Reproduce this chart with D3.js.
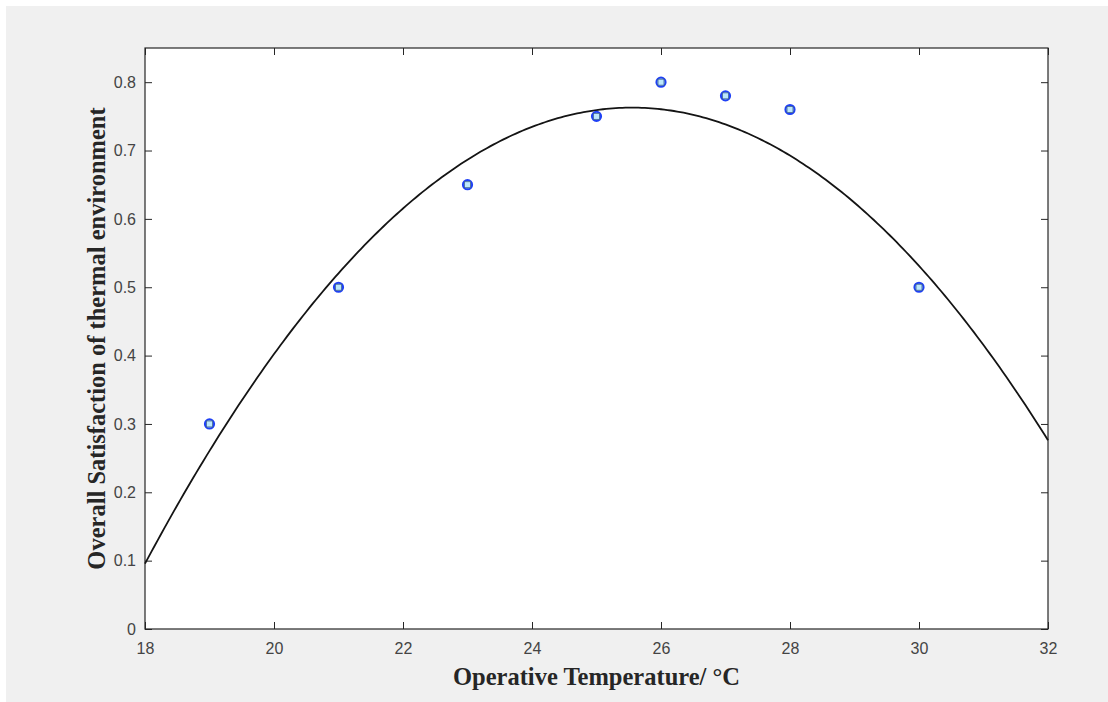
<!DOCTYPE html>
<html>
<head>
<meta charset="utf-8">
<script src="https://cdn.jsdelivr.net/npm/d3@7"></script>
<style>
  body { margin: 0; background: #ffffff; }
  svg { display: block; }
</style>
</head>
<body>
<div id="chart"></div>
<script>
/* DATA */
const temps = [19, 21, 23, 25, 26, 27, 28, 30];
const satisfaction = [0.30, 0.50, 0.65, 0.75, 0.80, 0.78, 0.76, 0.50];
// fitted quadratic: y = p2*x^2 + p1*x + p0
const fitCoeffs = [-0.0117, 0.5979, -6.8758];
const xTicks = [18, 20, 22, 24, 26, 28, 30, 32];
const yTicks = [0, 0.1, 0.2, 0.3, 0.4, 0.5, 0.6, 0.7, 0.8];
const xLabel = "Operative Temperature/ °C";
const yLabel = "Overall Satisfaction of thermal environment";

/* LAYOUT */
const W = 1108, H = 702;
const margin = {top: 48, right: 60, bottom: 73, left: 145};
const width = W - margin.left - margin.right,
  height = H - margin.top - margin.bottom;
const axisColor = "#262626";
const tickTextColor = "#444444";
const tickLen = 7;

const svg = d3.select("#chart").append("svg")
  .attr("width", W)
  .attr("height", H);

// figure background
svg.append("rect")
  .attr("x", 6).attr("y", 6)
  .attr("width", W - 6).attr("height", H - 6)
  .attr("fill", "#f0f0f0");

const g = svg.append("g")
  .attr("transform", `translate(${margin.left},${margin.top})`);

// scales
const x = d3.scaleLinear().domain([18, 32]).range([0, width]);
const y = d3.scaleLinear().domain([0, 0.85]).range([height, 0]);

g.append("rect")
  .attr("width", width).attr("height", height)
  .attr("fill", "#ffffff");

// axes (ticks pointing in, mirrored on top/right)
const fmtY = d => d === 0 ? "0" : d3.format(".1f")(d);

const xAxis = g.append("g")
  .attr("transform", `translate(0,${height})`)
  .call(d3.axisBottom(x).tickValues(xTicks).tickSize(-tickLen).tickPadding(14).tickSizeOuter(0));
const yAxis = g.append("g")
  .call(d3.axisLeft(y).tickValues(yTicks).tickFormat(fmtY).tickSize(-tickLen).tickPadding(9).tickSizeOuter(0));
const xAxisTop = g.append("g")
  .call(d3.axisTop(x).tickValues(xTicks).tickSize(-tickLen).tickFormat("").tickSizeOuter(0));
const yAxisRight = g.append("g")
  .attr("transform", `translate(${width},0)`)
  .call(d3.axisRight(y).tickValues(yTicks).tickSize(-tickLen).tickFormat("").tickSizeOuter(0));

[xAxis, yAxis, xAxisTop, yAxisRight].forEach(a => {
  a.select(".domain").remove();
  a.selectAll("line").attr("stroke", axisColor);
  a.selectAll("text")
    .attr("fill", tickTextColor)
    .style("font-family", "'Liberation Sans', Arial, sans-serif")
    .style("font-size", "16px");
});

// box
g.append("rect")
  .attr("width", width).attr("height", height)
  .attr("fill", "none")
  .attr("stroke", axisColor)
  .attr("stroke-width", 1.2);

// fitted curve
const fitFn = t => fitCoeffs[0] * t * t + fitCoeffs[1] * t + fitCoeffs[2];
const curveX = d3.range(18, 32.001, 0.05);
g.append("path")
  .datum(curveX)
  .attr("fill", "none")
  .attr("stroke", "#141414")
  .attr("stroke-width", 1.8)
  .attr("d", d3.line().x(d => x(d)).y(d => y(fitFn(d))));

// markers: blue circle with light square
const pts = temps.map((t, i) => ({t, v: satisfaction[i]}));
const mk = g.selectAll(".pt")
  .data(pts)
  .join("g")
  .attr("class", "pt")
  .attr("transform", d => `translate(${x(d.t)},${y(d.v)})`);
mk.append("circle")
  .attr("r", 4.6)
  .attr("fill", "#a6dcf6")
  .attr("stroke", "#1e40f5")
  .attr("stroke-width", 2);
mk.append("rect")
  .attr("x", -3).attr("y", -3)
  .attr("width", 6).attr("height", 6)
  .attr("fill", "#bde8fb")
  .attr("stroke", "#3b5c90")
  .attr("stroke-width", 0.8);

// axis labels
svg.append("text")
  .attr("x", margin.left + width / 2)
  .attr("y", 685)
  .attr("text-anchor", "middle")
  .attr("fill", axisColor)
  .style("font-family", "'Liberation Serif', 'Times New Roman', serif")
  .style("font-weight", "bold")
  .style("font-size", "24.5px")
  .text(xLabel);

svg.append("text")
  .attr("transform", `translate(105,${margin.top + height / 2}) rotate(-90)`)
  .attr("text-anchor", "middle")
  .attr("fill", axisColor)
  .style("font-family", "'Liberation Serif', 'Times New Roman', serif")
  .style("font-weight", "bold")
  .style("font-size", "24.5px")
  .text(yLabel);
</script>
</body>
</html>
